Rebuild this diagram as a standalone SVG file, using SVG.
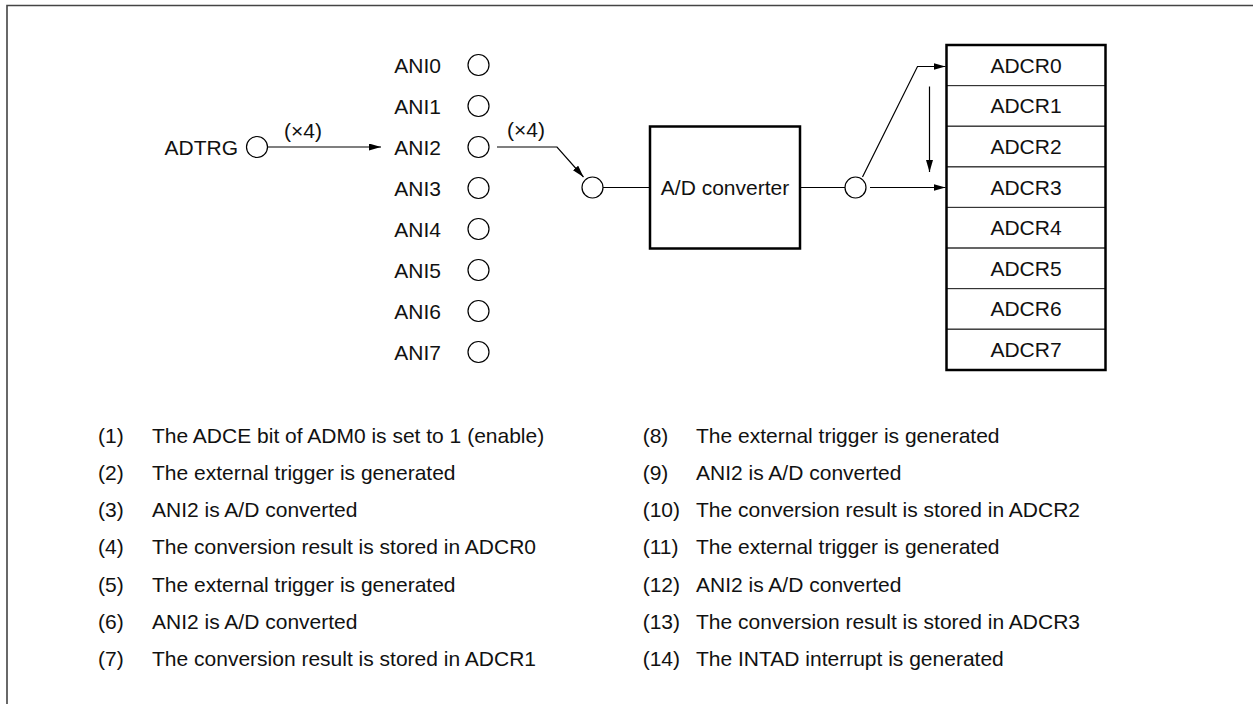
<svg xmlns="http://www.w3.org/2000/svg" width="1253" height="704" viewBox="0 0 1253 704">
<defs>
<style>
text{font-family:"Liberation Sans",Arial,sans-serif;font-size:21px;fill:#111}
.pin{fill:#fff;stroke:#000;stroke-width:1.2}
.ln{fill:none;stroke:#000;stroke-width:1.2}
.lbl{text-anchor:end}
.mid{text-anchor:middle}
.cell{fill:none;stroke:#333;stroke-width:1}
</style>
<marker id="ah" markerUnits="userSpaceOnUse" markerWidth="13" markerHeight="8" refX="12" refY="3.5" orient="auto">
<path d="M0,0 L12,3.5 L0,7 z" fill="#000"/>
</marker>
</defs>
<rect width="1253" height="704" fill="#fff"/>
<path d="M7,704 V5.5 H1253" fill="none" stroke="#444" stroke-width="1.6"/>

<g id="adtrg">
<text class="lbl" x="238" y="154.5">ADTRG</text>
<circle class="pin" cx="257" cy="147" r="10.5"/>
</g>

<g id="ani-pins">
<text class="lbl" x="441" y="72.5">ANI0</text><circle class="pin" cx="478.5" cy="65" r="10.5"/>
<text class="lbl" x="441" y="113.5">ANI1</text><circle class="pin" cx="478.5" cy="106" r="10.5"/>
<text class="lbl" x="441" y="154.5">ANI2</text><circle class="pin" cx="478.5" cy="147" r="10.5"/>
<text class="lbl" x="441" y="195.5">ANI3</text><circle class="pin" cx="478.5" cy="188" r="10.5"/>
<text class="lbl" x="441" y="236.5">ANI4</text><circle class="pin" cx="478.5" cy="229" r="10.5"/>
<text class="lbl" x="441" y="277.5">ANI5</text><circle class="pin" cx="478.5" cy="270" r="10.5"/>
<text class="lbl" x="441" y="318.5">ANI6</text><circle class="pin" cx="478.5" cy="311" r="10.5"/>
<text class="lbl" x="441" y="359.5">ANI7</text><circle class="pin" cx="478.5" cy="352" r="10.5"/>
</g>

<g id="mux-in">
<circle class="pin" cx="592.5" cy="187.5" r="10.5"/>
</g>

<g id="adc">
<rect x="650" y="126.5" width="150" height="122" fill="#fff" stroke="#000" stroke-width="2.5"/>
<text class="mid" x="725" y="195">A/D converter</text>
</g>

<g id="mux-out">
<circle class="pin" cx="855.5" cy="187.5" r="10.5"/>
</g>

<g id="adcr">
<rect class="cell" x="946.5" y="45" width="159" height="40.6"/>
<rect class="cell" x="946.5" y="85.6" width="159" height="40.6"/>
<rect class="cell" x="946.5" y="126.2" width="159" height="40.6"/>
<rect class="cell" x="946.5" y="166.8" width="159" height="40.6"/>
<rect class="cell" x="946.5" y="207.4" width="159" height="40.6"/>
<rect class="cell" x="946.5" y="248" width="159" height="40.6"/>
<rect class="cell" x="946.5" y="288.6" width="159" height="40.6"/>
<rect class="cell" x="946.5" y="329.2" width="159" height="40.8"/>
<rect x="946.5" y="45" width="159" height="325" fill="none" stroke="#000" stroke-width="2.5"/>
<text class="mid" x="1026" y="72.8">ADCR0</text>
<text class="mid" x="1026" y="113.4">ADCR1</text>
<text class="mid" x="1026" y="154">ADCR2</text>
<text class="mid" x="1026" y="194.6">ADCR3</text>
<text class="mid" x="1026" y="235.2">ADCR4</text>
<text class="mid" x="1026" y="275.8">ADCR5</text>
<text class="mid" x="1026" y="316.4">ADCR6</text>
<text class="mid" x="1026" y="357">ADCR7</text>
</g>

<g id="connectors">
<line class="ln" x1="267.5" y1="147" x2="381" y2="147" marker-end="url(#ah)"/>
<text x="284" y="138">(×4)</text>
<polyline class="ln" points="497,147 557,147 583.5,177" marker-end="url(#ah)"/>
<text x="507" y="137">(×4)</text>
<line class="ln" x1="603" y1="187.5" x2="650" y2="187.5"/>
<line class="ln" x1="800" y1="187.5" x2="845" y2="187.5"/>
<polyline class="ln" points="862.5,177 917.5,66.5 945.5,66.5" marker-end="url(#ah)"/>
<line class="ln" x1="870" y1="187.5" x2="945.5" y2="187.5" marker-end="url(#ah)"/>
<line class="ln" x1="929.5" y1="86.5" x2="929.5" y2="172" marker-end="url(#ah)"/>
</g>

<g id="legend">
<text x="98" y="442.7">(1)</text><text x="152" y="442.7">The ADCE bit of ADM0 is set to 1 (enable)</text>
<text x="98" y="480">(2)</text><text x="152" y="480">The external trigger is generated</text>
<text x="98" y="517">(3)</text><text x="152" y="517">ANI2 is A/D converted</text>
<text x="98" y="554.3">(4)</text><text x="152" y="554.3">The conversion result is stored in ADCR0</text>
<text x="98" y="591.6">(5)</text><text x="152" y="591.6">The external trigger is generated</text>
<text x="98" y="628.6">(6)</text><text x="152" y="628.6">ANI2 is A/D converted</text>
<text x="98" y="666.3">(7)</text><text x="152" y="666.3">The conversion result is stored in ADCR1</text>
<text x="642.7" y="442.7">(8)</text><text x="696" y="442.7">The external trigger is generated</text>
<text x="642.7" y="480">(9)</text><text x="696" y="480">ANI2 is A/D converted</text>
<text x="642.7" y="517">(10)</text><text x="696" y="517">The conversion result is stored in ADCR2</text>
<text x="642.7" y="554.3">(11)</text><text x="696" y="554.3">The external trigger is generated</text>
<text x="642.7" y="591.6">(12)</text><text x="696" y="591.6">ANI2 is A/D converted</text>
<text x="642.7" y="628.6">(13)</text><text x="696" y="628.6">The conversion result is stored in ADCR3</text>
<text x="642.7" y="666.3">(14)</text><text x="696" y="666.3">The INTAD interrupt is generated</text>
</g>
</svg>
